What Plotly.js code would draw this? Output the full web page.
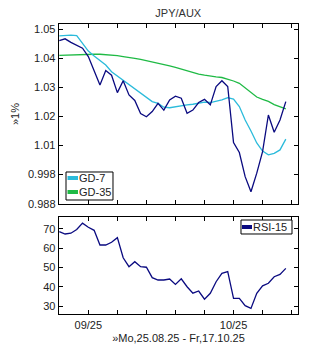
<!DOCTYPE html>
<html>
<head>
<meta charset="utf-8">
<script src="https://cdn.plot.ly/plotly-3.0.1.min.js"></script>
<style>
html,body{margin:0;padding:0;background:#fff;}
#chart{width:310px;height:350px;}
</style>
</head>
<body>
<div id="chart"></div>
<script>
// Trading-day index (Mo 25.08.25 ... Fr 17.10.25)
var dayIndex = [];
for (var i = 0; i < 40; i++) dayIndex.push(i);

var price = [1.0461,1.0467,1.0455,1.0445,1.0435,1.0406,1.0358,1.0308,1.0358,1.0342,
             1.0282,1.0323,1.0274,1.0255,1.0210,1.0199,1.0217,1.0245,1.0222,1.0257,
             1.0270,1.0263,1.0211,1.0222,1.0248,1.0259,1.0240,1.0303,1.0323,1.0303,
             1.0110,1.0076,0.9993,0.9941,1.0005,1.0079,1.0205,1.0146,1.0188,1.0251];

var gd7 = [1.0477,1.0478,1.0480,1.0478,1.0452,1.0425,1.0408,1.0392,1.0377,1.0354,
           1.0339,1.0326,1.0312,1.0294,1.0280,1.0266,1.0251,1.0245,1.0232,1.0230,
           1.0234,1.0236,1.0240,1.0242,1.0245,1.0249,1.0248,1.0253,1.0257,1.0265,
           1.0260,1.0234,1.0188,1.0150,1.0109,1.0081,1.0068,1.0073,1.0085,1.0122];

var gd35 = [1.0410,1.0411,1.0412,1.0413,1.0413,1.0414,1.0414,1.0414,1.0413,1.0412,
            1.0409,1.0406,1.0404,1.0400,1.0396,1.0392,1.0388,1.0383,1.0378,1.0374,
            1.0369,1.0363,1.0357,1.0351,1.0346,1.0342,1.0338,1.0336,1.0334,1.0329,
            1.0322,1.0314,1.0298,1.0281,1.0267,1.0259,1.0252,1.0241,1.0233,1.0226];

var rsi = [68.6,67.4,67.8,69.7,73.0,70.9,69.3,61.7,61.7,63.1,
           65.5,55.1,50.5,53.1,50.5,50.2,44.8,43.6,43.6,44.1,
           41.3,44.2,40.1,36.8,37.9,33.7,36.7,42.7,47.0,47.9,
           34.1,34.1,30.3,28.9,36.7,40.6,41.9,45.3,46.5,49.6];

var weekTicks = [0,5,10,15,20,25,30,35,40];
var weekLabels = ["","09/25","","","","","10/25","",""];
var priceTicks = [1.05,1.04,1.03,1.02,1.01,1.00,0.99];
var priceLabels = ["1.05","1.04","1.03","1.02","1.01","0.998","0.988"];
var rsiTicks = [30,40,50,60,70];
var legendNames = ["GD-7","GD-35","RSI-15"];

var NAVY = "#0a0a80", CYAN = "#2bbbdb", GREEN = "#1fba45";
var TXT = "#222222";
var FONT = "Liberation Sans, Arial, sans-serif";

var traces = [
  {x: dayIndex, y: gd35, type: "scatter", mode: "lines", name: legendNames[1], line: {color: GREEN, width: 1.3}, showlegend: false, xaxis: "x", yaxis: "y", hoverinfo: "skip"},
  {x: dayIndex, y: gd7, type: "scatter", mode: "lines", name: legendNames[0], line: {color: CYAN, width: 1.3}, showlegend: false, xaxis: "x", yaxis: "y", hoverinfo: "skip"},
  {x: dayIndex, y: price, type: "scatter", mode: "lines", name: "JPY/AUX", line: {color: NAVY, width: 1.3}, showlegend: false, xaxis: "x", yaxis: "y", hoverinfo: "skip"},
  {x: dayIndex, y: rsi, type: "scatter", mode: "lines", name: legendNames[2], line: {color: NAVY, width: 1.3}, showlegend: false, xaxis: "x2", yaxis: "y2", hoverinfo: "skip"}
];

var axisCommon = {
  showgrid: false, zeroline: false, showline: true, linecolor: "#000", linewidth: 1.3,
  mirror: "ticks", ticks: "inside", ticklen: 4, tickwidth: 1, tickcolor: "#000",
  tickfont: {family: FONT, size: 11, color: TXT}
};
function ax(extra){ var o = {}; for (var k in axisCommon) o[k] = axisCommon[k]; for (var k2 in extra) o[k2] = extra[k2]; return o; }

// legend boxes drawn in paper coordinates
var shapes = [
  {type: "rect", xref: "paper", yref: "paper", x0: 0.0293, x1: 0.2259, y0: 0.3931, y1: 0.4897, fillcolor: "#fff", line: {color: "#000", width: 1}, layer: "above"},
  {type: "line", xref: "paper", yref: "paper", x0: 0.0356, x1: 0.0795, y0: 0.469, y1: 0.469, line: {color: CYAN, width: 4}, layer: "above"},
  {type: "line", xref: "paper", yref: "paper", x0: 0.0356, x1: 0.0795, y0: 0.4207, y1: 0.4207, line: {color: GREEN, width: 4}, layer: "above"},
  {type: "rect", xref: "paper", yref: "paper", x0: 0.7615, x1: 0.9749, y0: 0.2759, y1: 0.3241, fillcolor: "#fff", line: {color: "#000", width: 1}, layer: "above"},
  {type: "line", xref: "paper", yref: "paper", x0: 0.7657, x1: 0.8075, y0: 0.3, y1: 0.3, line: {color: NAVY, width: 4}, layer: "above"}
];
var annotations = [
  {xref: "paper", yref: "paper", x: 0.0795, y: 0.469, xanchor: "left", yanchor: "middle", xshift: -1, text: legendNames[0], showarrow: false, font: {family: FONT, size: 11, color: TXT}},
  {xref: "paper", yref: "paper", x: 0.0795, y: 0.4207, xanchor: "left", yanchor: "middle", xshift: -1, text: legendNames[1], showarrow: false, font: {family: FONT, size: 11, color: TXT}},
  {xref: "paper", yref: "paper", x: 0.8075, y: 0.3, xanchor: "left", yanchor: "middle", xshift: -1, text: legendNames[2], showarrow: false, font: {family: FONT, size: 11, color: TXT}}
];

var layout = {
  width: 310, height: 350,
  margin: {l: 59, r: 12, t: 24, b: 36},
  paper_bgcolor: "#fff", plot_bgcolor: "#fff",
  showlegend: false,
  font: {family: FONT, size: 11, color: TXT},
  title: {text: "JPY/AUX", font: {size: 11, color: "#333"}, x: 0.575, xanchor: "center", y: 0.962, yanchor: "middle", yref: "container"},
  xaxis: ax({domain: [0, 1], range: [-0.05, 41.1], anchor: "y", tickmode: "array", tickvals: weekTicks, showticklabels: false}),
  yaxis: ax({domain: [0.3793, 1], range: [0.9899, 1.0518], anchor: "x", tickmode: "array", tickvals: priceTicks, ticktext: priceLabels,
    title: {text: "»1%", font: {size: 11, color: TXT}, standoff: 6}}),
  xaxis2: ax({domain: [0, 1], range: [-0.05, 41.1], anchor: "y2", tickmode: "array", tickvals: weekTicks, ticktext: weekLabels,
    title: {text: "»Mo,25.08.25 - Fr,17.10.25", font: {size: 11, color: TXT}, standoff: 4}}),
  yaxis2: ax({domain: [0, 0.3345], range: [26.0, 76.2], anchor: "x2", tickmode: "array", tickvals: rsiTicks}),
  shapes: shapes,
  annotations: annotations
};

Plotly.newPlot("chart", traces, layout, {displayModeBar: false, staticPlot: true});
</script>
</body>
</html>
